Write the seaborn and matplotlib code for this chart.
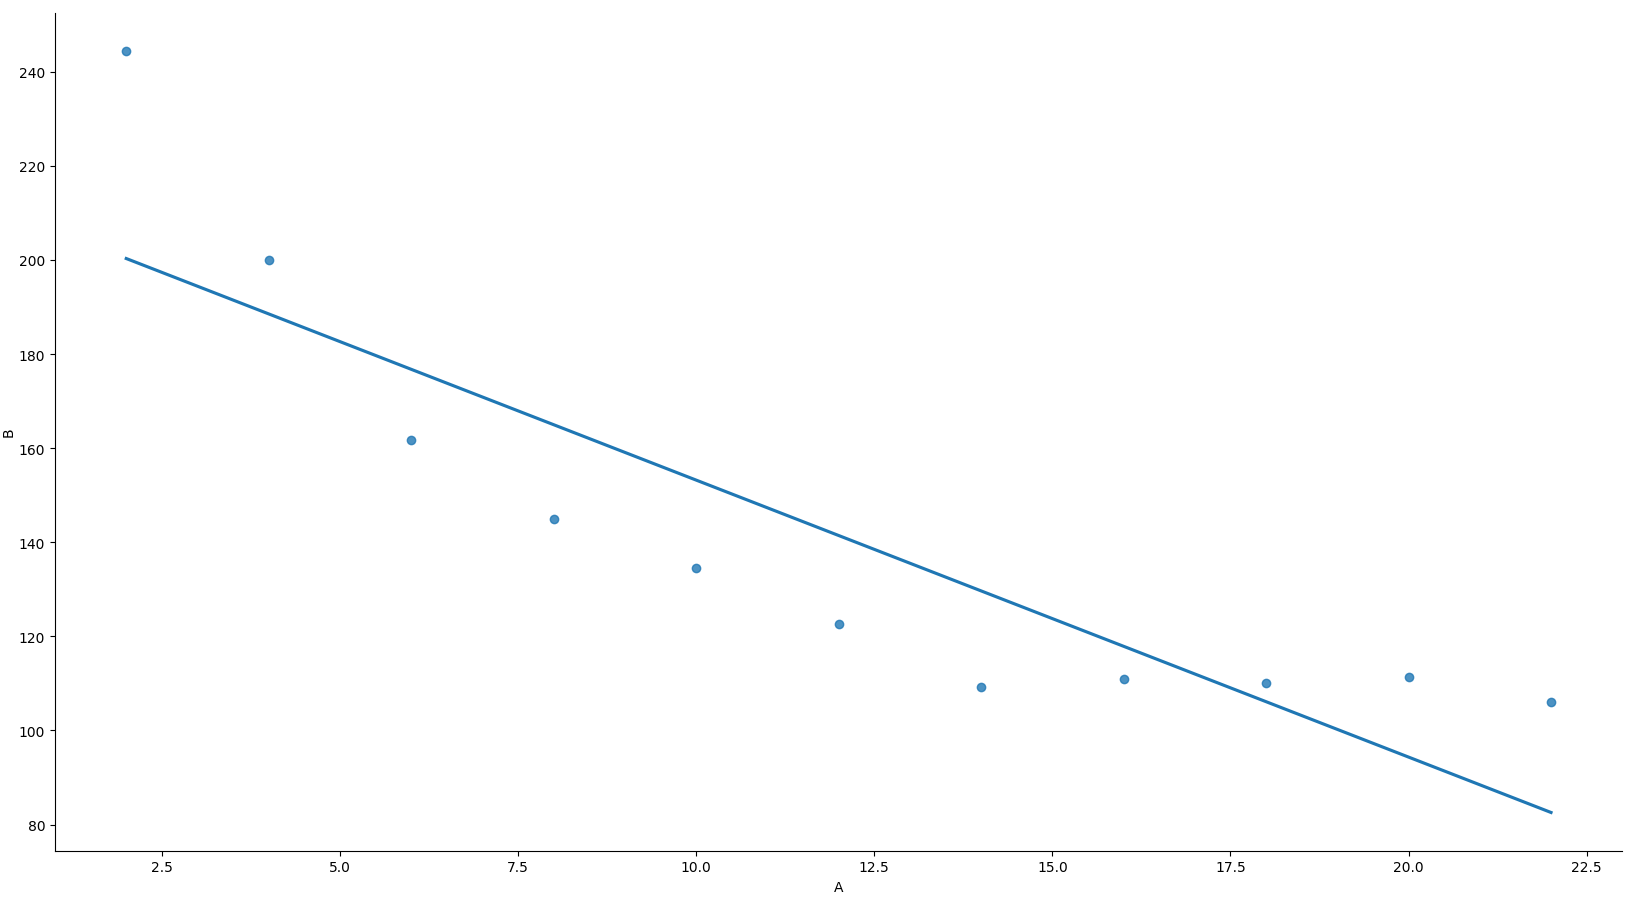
import matplotlib
matplotlib.use("Agg")
import matplotlib.pyplot as plt
import seaborn as sns
import pandas as pd

A = [2, 4, 6, 8, 10, 12, 14, 16, 18, 20, 22]
B = [244.5, 199.9, 161.7, 144.9, 134.6, 122.7, 109.3, 110.9, 110.0, 111.3, 106.0]

df = pd.DataFrame({"A": A, "B": B})

fig = plt.figure(figsize=(16.52, 9.04), dpi=100)
ax = fig.add_axes([0.0333, 0.058, 0.9487, 0.927])
sns.regplot(data=df, x="A", y="B", ci=None, ax=ax)
sns.despine(ax=ax)
ax.yaxis.labelpad = 2
fig.savefig("out.png", dpi=100)
